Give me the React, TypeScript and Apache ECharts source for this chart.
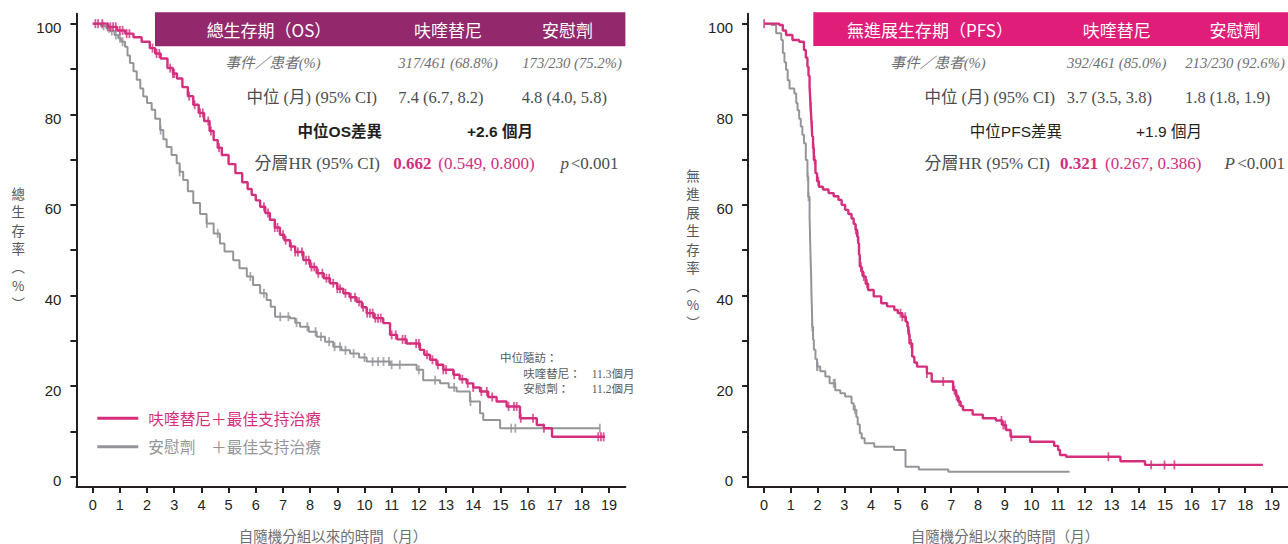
import React, { useEffect, useRef } from "react";
import * as echarts from "echarts";

// ---------- axis ticks ----------
const xTickValues = [0, 1, 2, 3, 4, 5, 6, 7, 8, 9, 10, 11, 12, 13, 14, 15, 16, 17, 18, 19];
const yTickValues = [0, 10, 20, 30, 40, 50, 60, 70, 80, 90, 100];
const yLabelValues = [0, 20, 40, 60, 80, 100];

// ---------- OS curves: [month, survival %] (Kaplan–Meier steps) ----------
const osFruq: number[][] = [
  [0, 100], [0.55, 99.3], [0.9, 98.5], [1.2, 97.8], [1.5, 97.0], [1.8, 96.0], [2.1, 94.6], [2.3, 93.4],
  [2.5, 92.3], [2.75, 90.2], [2.95, 89.0], [3.1, 87.9], [3.3, 86.0], [3.5, 84.0], [3.7, 82.1], [3.9, 80.3],
  [4.1, 78.5], [4.3, 76.3], [4.45, 74.3], [4.6, 72.6], [4.75, 71.0], [5.0, 69.0], [5.25, 67.0], [5.5, 65.0],
  [5.7, 63.5], [5.85, 62.2], [6.0, 61.0], [6.16, 59.6], [6.35, 58.2], [6.52, 56.7], [6.7, 55.0], [6.89, 53.4],
  [7.05, 52.2], [7.26, 50.8], [7.45, 49.6], [7.75, 47.8], [8.0, 46.3], [8.24, 44.9], [8.5, 43.8], [8.73, 42.7],
  [9.0, 41.5], [9.22, 40.5], [9.45, 39.6], [9.71, 38.6], [9.9, 37.4], [10.08, 36.1], [10.35, 35.0], [10.69, 33.9],
  [10.94, 31.3], [11.2, 30.3], [11.55, 29.4], [12.04, 28.0], [12.2, 26.9], [12.41, 25.8], [12.65, 24.7], [12.9, 23.6],
  [13.27, 22.5], [13.5, 21.5], [13.76, 20.6], [14.0, 19.7], [14.25, 18.8], [14.55, 17.6], [14.86, 16.6], [15.23, 15.5],
  [15.72, 12.9], [16.34, 11.4], [16.6, 10.7], [16.9, 8.8], [18.85, 8.8],
];
const osPlacebo: number[][] = [
  [0, 100], [0.3, 99.5], [0.5, 99.0], [0.64, 98.4], [0.8, 97.5], [0.94, 96.8], [1.05, 96.0], [1.19, 94.9],
  [1.28, 93.0], [1.37, 91.3], [1.5, 89.5], [1.62, 87.6], [1.75, 85.7], [1.86, 83.9], [2.0, 82.5], [2.17, 81.0],
  [2.3, 79.0], [2.48, 76.5], [2.6, 74.5], [2.72, 72.8], [2.9, 71.0], [3.09, 69.2], [3.2, 67.3], [3.33, 65.5],
  [3.5, 63.0], [3.7, 60.4], [3.95, 58.0], [4.19, 55.9], [4.45, 53.7], [4.68, 51.5], [4.85, 49.7], [5.17, 47.8],
  [5.4, 46.0], [5.67, 44.2], [5.9, 42.3], [6.16, 40.5], [6.4, 39.0], [6.55, 37.5], [6.71, 35.3], [7.26, 35.0],
  [7.45, 34.0], [7.63, 33.1], [7.95, 32.0], [8.24, 30.9], [8.55, 29.8], [8.85, 28.7], [9.15, 27.9], [9.47, 27.2],
  [9.8, 26.3], [10.08, 25.4], [10.94, 24.7], [11.92, 23.6], [12.16, 21.3], [12.78, 20.6], [13.1, 19.7], [13.39, 18.8],
  [13.88, 16.6], [14.25, 14.0], [14.37, 12.5], [14.99, 10.7], [18.66, 10.7],
];
const osFruqCensor = [
  0.1, 0.2, 0.35, 0.55, 0.65, 0.75, 0.85, 1.0, 1.1, 1.25, 1.35, 2.2, 2.35, 2.45, 2.85, 2.95, 3.0, 3.55, 3.75, 3.95,
  4.05, 4.25, 4.35, 4.65, 6.3, 6.45, 6.7, 6.8, 7.0, 7.1, 7.3, 7.45, 7.55, 7.7, 7.85, 7.95, 8.05, 8.15, 8.3, 8.45,
  8.6, 8.7, 8.85, 9.0, 9.1, 9.3, 9.5, 9.65, 9.8, 9.95, 10.1, 10.2, 10.3, 10.4, 10.5, 10.6, 11.0, 11.15, 11.4, 11.5,
  11.9, 12.0, 12.3, 12.5, 12.7, 12.9, 13.0, 13.3, 13.6, 13.8, 14.0, 14.3, 14.5, 14.7, 15.3, 15.5, 15.6, 15.75, 16.2,
  16.6, 18.6, 18.7, 18.8,
];
const osPlaceboCensor = [
  0.4, 0.6, 0.7, 0.85, 1.0, 1.1, 2.5, 3.2, 4.2, 4.6, 5.8, 6.3, 6.9, 7.2, 7.5, 7.9, 8.2, 8.4, 8.7, 8.9, 9.1, 9.3,
  9.6, 10.0, 10.3, 10.5, 10.7, 10.9, 11.0, 11.3, 12.0, 12.6, 13.3, 13.9, 15.4, 15.55, 18.66,
];

// ---------- PFS curves ----------
const pfsFruq: number[][] = [
  [0, 100], [0.57, 99.7], [0.7, 98.5], [0.82, 97.5], [1.06, 96.4], [1.31, 96.0], [1.49, 94.2], [1.56, 92.5],
  [1.62, 90.5], [1.66, 88.5], [1.7, 86.1], [1.72, 84.0], [1.74, 81.7], [1.76, 79.5], [1.78, 77.5], [1.8, 75.1],
  [1.83, 72.5], [1.86, 69.9], [1.92, 67.0], [1.98, 65.2], [2.05, 64.0], [2.2, 63.4], [2.41, 62.6], [2.6, 61.9],
  [2.78, 61.1], [2.9, 60.0], [3.03, 58.9], [3.15, 58.0], [3.27, 57.0], [3.35, 55.8], [3.42, 54.5], [3.48, 53.0],
  [3.52, 51.5], [3.55, 49.0], [3.58, 46.4], [3.64, 45.3], [3.7, 44.2], [3.8, 42.6], [3.89, 41.2], [4.1, 39.8],
  [4.38, 38.3], [4.6, 37.6], [4.87, 36.8], [5.0, 36.1], [5.17, 35.3], [5.3, 34.2], [5.36, 33.1], [5.4, 31.5],
  [5.44, 29.4], [5.54, 26.5], [5.62, 25.2], [5.72, 24.3], [6.09, 22.8], [6.27, 21.0], [7.07, 19.1], [7.18, 17.8],
  [7.26, 16.6], [7.35, 15.6], [7.44, 14.7], [7.8, 13.7], [8.18, 12.9], [8.67, 12.4], [8.91, 11.4], [9.05, 10.3],
  [9.22, 8.8], [9.95, 7.7], [10.85, 6.8], [11.0, 5.9], [11.07, 4.8], [11.3, 4.4], [13.33, 3.4], [14.25, 2.6],
  [18.66, 2.6],
];
const pfsPlacebo: number[][] = [
  [0, 100], [0.27, 99.7], [0.45, 97.9], [0.64, 96.4], [0.7, 93.5], [0.76, 91.5], [0.82, 89.8], [0.88, 87.5],
  [0.95, 85.7], [1.13, 84.6], [1.2, 82.5], [1.25, 80.9], [1.31, 79.0], [1.37, 77.3], [1.43, 75.5], [1.49, 73.6],
  [1.56, 69.9], [1.62, 66.2], [1.65, 61.8], [1.7, 57.4], [1.72, 52.5], [1.74, 47.8], [1.76, 44.0], [1.77, 40.5],
  [1.79, 36.5], [1.8, 33.1], [1.83, 30.2], [1.86, 28.0], [1.92, 26.0], [1.98, 24.3], [2.1, 23.3], [2.29, 22.1],
  [2.45, 20.6], [2.66, 19.1], [2.85, 18.4], [3.03, 17.7], [3.27, 16.2], [3.35, 14.8], [3.45, 13.2], [3.5, 11.5],
  [3.58, 9.6], [3.65, 8.5], [3.76, 7.4], [4.12, 6.6], [4.86, 5.9], [5.29, 2.2], [5.79, 1.6], [6.89, 1.1],
  [11.43, 1.1],
];
const pfsFruqCensor = [
  0.0, 1.72, 1.74, 1.79, 1.85, 1.89, 2.03, 3.43, 3.5, 3.62, 3.67, 3.73, 3.85, 5.1, 5.17, 5.28, 5.38, 5.43, 5.5,
  6.09, 6.7, 7.12, 7.2, 7.3, 8.88, 8.95, 9.02, 9.25, 12.88, 14.48, 14.98, 15.35,
];
const pfsPlaceboCensor = [1.63, 1.66, 1.8, 1.98, 2.0, 2.6, 2.65, 3.4];

// ---------- axis-title characters (vertical) ----------
const osYTitle = ["總", "生", "存", "率", "︵", "%", "︶"];
const pfsYTitle = ["無", "進", "展", "生", "存", "率", "︵", "%", "︶"];

// ---------- colours & fonts ----------
const PINK = "#d52e7d";
const GRAY = "#939598";
const AXIS = "#231f20";
const HEAD_OS = "#93286d";
const HEAD_PFS = "#e01d79";
const TXT = "#4d4d4f";
const SANS = "'Liberation Sans', 'Noto Sans CJK TC', sans-serif";
const CJK = "'Noto Sans CJK TC', 'Liberation Sans', sans-serif";
const SERIF = "'Liberation Serif', 'Noto Sans CJK TC', serif";

const GRID_LEFT = 76.4;
const GRID_TOP = 13.7;
const GRID_W = 549;
const GRID_H = 473.4;
const SHIFT = 671.7;

function stepAt(curve: number[][], t: number): number {
  let s = curve[0][1];
  for (const p of curve) {
    if (p[0] <= t) s = p[1];
    else break;
  }
  return s;
}
const censorPoints = (curve: number[][], times: number[]) => times.map((t) => [t, stepAt(curve, t)]);

function txt(x: number, y: number, text: string, o: any = {}) {
  return {
    type: "text",
    x,
    y,
    silent: true,
    style: {
      text,
      fill: o.fill ?? TXT,
      fontSize: o.size ?? 16,
      fontFamily: o.family ?? SERIF,
      fontWeight: o.weight ?? "normal",
      fontStyle: o.style ?? "normal",
      textAlign: o.align ?? "left",
      textVerticalAlign: "middle",
    },
  };
}

function makeX(i: number) {
  return {
    type: "value",
    gridIndex: i,
    min: -0.6,
    max: 19.6,
    axisLine: { show: true, onZero: false, lineStyle: { color: AXIS, width: 2 } },
    axisTick: { show: true, customValues: xTickValues, length: 6, lineStyle: { color: AXIS, width: 2 } },
    axisLabel: { show: true, customValues: xTickValues, margin: 11, fontSize: 14.5, color: AXIS, fontFamily: SANS },
    splitLine: { show: false },
  };
}
function makeY(i: number) {
  return {
    type: "value",
    gridIndex: i,
    min: -2.3,
    max: 102.2,
    axisLine: { show: true, onZero: false, lineStyle: { color: AXIS, width: 2 } },
    axisTick: { show: true, customValues: yTickValues, length: 6, lineStyle: { color: AXIS, width: 2 } },
    axisLabel: {
      show: true,
      customValues: yLabelValues,
      margin: 15,
      fontSize: 15,
      color: AXIS,
      fontFamily: SANS,
      verticalAlign: "top",
      lineHeight: 8,
    },
    splitLine: { show: false },
  };
}
function curve(data: number[][], color: string, i: number, width: number) {
  return {
    type: "line",
    xAxisIndex: i,
    yAxisIndex: i,
    data,
    step: "end",
    showSymbol: false,
    symbol: "none",
    lineStyle: { color, width },
    z: color === PINK ? 4 : 3,
  };
}
function marks(data: number[][], color: string, i: number) {
  return {
    type: "scatter",
    xAxisIndex: i,
    yAxisIndex: i,
    data,
    symbol: "rect",
    symbolSize: [1.8, 9],
    itemStyle: { color },
    z: color === PINK ? 5 : 3,
  };
}
function verticalTitle(chars: string[], x: number, y0: number, step: number) {
  return chars.map((c, k) =>
    txt(x, y0 + k * step, c, { fill: "#58595b", size: 13.5, family: CJK, align: "center" })
  );
}

export default function App() {
  const ref = useRef<HTMLDivElement>(null);
  useEffect(() => {
    if (!ref.current) return;
    const chart = echarts.init(ref.current, undefined, { renderer: "svg" });
    const white = { fill: "#ffffff", size: 17, family: CJK, align: "center" };
    const r1 = { fill: "#6d6e71", size: 14.7, style: "italic", align: "center" };
    const r2 = { size: 16.5 };
    const r4 = { size: 17 };
    const ann = { fill: "#58595b", size: 11.5 };
    const graphic: any[] = [
      // ---- OS table ----
      { type: "rect", shape: { x: 155, y: 12.3, width: 470.4, height: 34 }, style: { fill: HEAD_OS }, silent: true },
      txt(269, 29.5, "總生存期（OS）", white),
      txt(448, 29.5, "呋喹替尼", white),
      txt(567.5, 29.5, "安慰劑", white),
      txt(273, 62.7, "事件／患者(%)", r1),
      txt(448, 62.7, "317/461 (68.8%)", r1),
      txt(572, 62.7, "173/230 (75.2%)", r1),
      txt(377, 97.3, "中位 (月) (95% CI)", { ...r2, align: "right" }),
      txt(398.3, 97.3, "7.4 (6.7, 8.2)", r2),
      txt(521.7, 97.3, "4.8 (4.0, 5.8)", r2),
      txt(382, 131.7, "中位OS差異", { size: 15.5, family: SANS, weight: "bold", fill: AXIS, align: "right" }),
      txt(500, 131.7, "+2.6 個月", { size: 15.5, family: SANS, weight: "bold", fill: AXIS, align: "center" }),
      txt(380, 163.3, "分層HR (95% CI)", { ...r4, align: "right" }),
      txt(393.3, 163.3, "0.662", { ...r4, weight: "bold", fill: PINK }),
      txt(438.3, 163.3, "(0.549, 0.800)", { ...r4, fill: PINK }),
      txt(569, 163.3, "p", { ...r4, style: "italic", align: "right" }),
      txt(618.5, 163.3, "<0.001", { ...r4, align: "right" }),
      // ---- PFS table ----
      { type: "rect", shape: { x: 813.3, y: 12.3, width: 480, height: 33.6 }, style: { fill: HEAD_PFS }, silent: true },
      txt(930, 29.5, "無進展生存期（PFS）", white),
      txt(1116.7, 29.5, "呋喹替尼", white),
      txt(1235, 29.5, "安慰劑", white),
      txt(938, 62.7, "事件／患者(%)", r1),
      txt(1116.7, 62.7, "392/461 (85.0%)", r1),
      txt(1235, 62.7, "213/230 (92.6%)", r1),
      txt(1055, 97.3, "中位 (月) (95% CI)", { ...r2, align: "right" }),
      txt(1066.7, 97.3, "3.7 (3.5, 3.8)", r2),
      txt(1185, 97.3, "1.8 (1.8, 1.9)", r2),
      txt(1062, 131.7, "中位PFS差異", { size: 15.5, family: SANS, fill: AXIS, align: "right" }),
      txt(1169, 131.7, "+1.9 個月", { size: 15.5, family: SANS, fill: AXIS, align: "center" }),
      txt(1050, 163.3, "分層HR (95% CI)", { ...r4, align: "right" }),
      txt(1060, 163.3, "0.321", { ...r4, weight: "bold", fill: PINK }),
      txt(1105, 163.3, "(0.267, 0.386)", { ...r4, fill: PINK }),
      txt(1235, 163.3, "P", { ...r4, style: "italic", align: "right" }),
      txt(1285, 163.3, "<0.001", { ...r4, align: "right" }),
      // ---- follow-up annotation ----
      txt(500, 358.3, "中位隨訪：", ann),
      txt(523.3, 374, "呋喹替尼：", ann),
      txt(591.7, 374, "11.3個月", ann),
      txt(523.3, 389.3, "安慰劑：", ann),
      txt(591.7, 389.3, "11.2個月", ann),
      // ---- legend ----
      { type: "line", shape: { x1: 97.3, y1: 418.3, x2: 138.3, y2: 418.3 }, style: { stroke: PINK, lineWidth: 3 }, silent: true },
      txt(148.3, 418.3, "呋喹替尼＋最佳支持治療", { fill: PINK, size: 15.7, family: CJK }),
      { type: "line", shape: { x1: 97.3, y1: 446.7, x2: 138.3, y2: 446.7 }, style: { stroke: GRAY, lineWidth: 3 }, silent: true },
      txt(148.3, 446.7, "安慰劑　＋最佳支持治療", { fill: GRAY, size: 15.7, family: CJK }),
      // ---- axis titles ----
      txt(333, 535, "自隨機分組以來的時間（月）", { fill: "#6d6e71", size: 14.5, family: CJK, align: "center" }),
      txt(1005, 535, "自隨機分組以來的時間（月）", { fill: "#6d6e71", size: 14.5, family: CJK, align: "center" }),
      ...verticalTitle(osYTitle, 18.3, 193, 18.3),
      ...verticalTitle(pfsYTitle, 693, 175, 18.4),
    ];

    chart.setOption({
      animation: false,
      backgroundColor: "#ffffff",
      grid: [
        { left: GRID_LEFT, top: GRID_TOP, width: GRID_W, height: GRID_H },
        { left: GRID_LEFT + SHIFT, top: GRID_TOP, width: GRID_W, height: GRID_H },
      ],
      xAxis: [makeX(0), makeX(1)],
      yAxis: [makeY(0), makeY(1)],
      series: [
        curve(osPlacebo, GRAY, 0, 2),
        marks(censorPoints(osPlacebo, osPlaceboCensor), GRAY, 0),
        curve(osFruq, PINK, 0, 2.4),
        marks(censorPoints(osFruq, osFruqCensor), PINK, 0),
        curve(pfsPlacebo, GRAY, 1, 2),
        marks(censorPoints(pfsPlacebo, pfsPlaceboCensor), GRAY, 1),
        curve(pfsFruq, PINK, 1, 2.4),
        marks(censorPoints(pfsFruq, pfsFruqCensor), PINK, 1),
      ],
      graphic,
    });
    return () => chart.dispose();
  }, []);
  return <div ref={ref} style={{ position: "absolute", left: 0, top: 0, width: 1288, height: 544 }} />;
}
